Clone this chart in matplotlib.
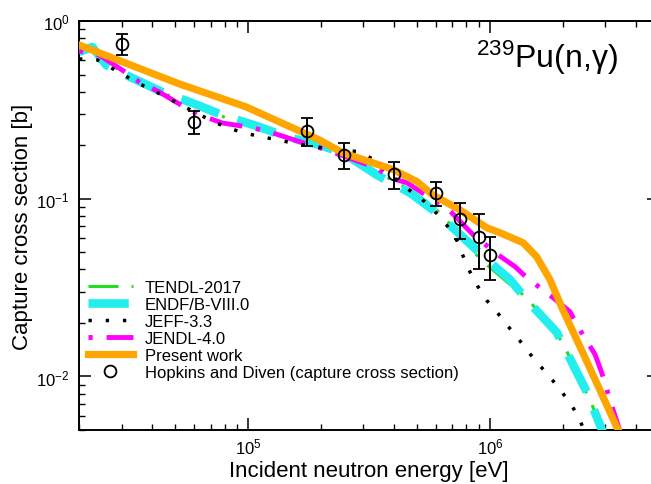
import matplotlib
matplotlib.use('Agg')
import matplotlib.pyplot as plt
from matplotlib.lines import Line2D
from matplotlib.ticker import NullFormatter

plt.rcParams['font.family'] = 'Liberation Sans'
plt.rcParams['mathtext.fontset'] = 'custom'
plt.rcParams['mathtext.rm'] = 'Liberation Sans'
plt.rcParams['mathtext.it'] = 'Liberation Sans:italic'
plt.rcParams['axes.unicode_minus'] = False
plt.rcParams['lines.scale_dashes'] = False

# energies in eV, cross sections in barn
present_e = [2.0e4, 5.19e4, 9.8e4, 1.96e5, 2.47e5, 3.97e5, 4.99e5, 5.81e5, 7.5e5, 9.7e5,
             1.1e6, 1.37e6, 1.56e6, 1.77e6, 2.0e6, 2.42e6, 2.93e6, 3.35e6, 3.6e6]
present_xs = [0.733, 0.443, 0.329, 0.215, 0.181, 0.146, 0.125, 0.105, 0.0867, 0.0687,
              0.0644, 0.0566, 0.0472, 0.0351, 0.0238, 0.0136, 0.00772, 0.00517, 0.0042]

endf_e = [2.0e4, 2.27e4, 2.59e4, 3.32e4, 4.41e4, 5.87e4, 7.81e4, 1.11e5, 1.44e5, 1.97e5,
          2.47e5, 3.41e5, 4.67e5, 5.81e5, 7.31e5, 9.72e5, 1.21e6, 1.44e6, 1.89e6, 2.52e6,
          2.90e6, 3.1e6]
endf_xs = [0.670, 0.714, 0.566, 0.478, 0.399, 0.346, 0.296, 0.254, 0.223, 0.201,
           0.181, 0.136, 0.108, 0.0867, 0.0653, 0.0454, 0.0351, 0.0264, 0.0177, 0.00813,
           0.00504, 0.0041]

tendl_e = [2.0e4, 2.27e4, 2.59e4, 3.01e4, 4.63e4, 5.87e4, 8.59e4, 1.74e5, 2.47e5, 3.41e5,
           4.67e5, 5.81e5, 7.31e5, 8.51e5, 1.0e6, 1.24e6, 1.42e6, 1.99e6, 2.64e6, 2.99e6]
tendl_xs = [0.687, 0.704, 0.589, 0.517, 0.384, 0.351, 0.274, 0.206, 0.181, 0.142,
            0.112, 0.0914, 0.0653, 0.0504, 0.0410, 0.0321, 0.0278, 0.0157, 0.00697, 0.00443]

jendl_e = [2.0e4, 2.42e4, 3.01e4, 3.55e4, 4.29e4, 5.54e4, 6.46e4, 7.81e4, 1.04e5, 1.26e5,
           1.64e5, 1.97e5, 2.40e5, 2.90e5, 3.41e5, 3.86e5, 4.54e5, 5.81e5, 6.64e5, 8.51e5,
           1.08e6, 1.27e6, 1.42e6, 1.82e6, 2.14e6, 2.31e6, 2.72e6, 2.90e6, 3.13e6, 3.44e6,
           3.58e6]
jendl_xs = [0.678, 0.644, 0.531, 0.454, 0.399, 0.324, 0.293, 0.267, 0.251, 0.235,
            0.209, 0.194, 0.177, 0.161, 0.149, 0.131, 0.123, 0.0987, 0.0890, 0.0628,
            0.0484, 0.0415, 0.0360, 0.0278, 0.0232, 0.0191, 0.0133, 0.0105, 0.00743, 0.00498,
            0.00443]

jeff_e = [2.0e4, 2.38e4, 3.01e4, 3.48e4, 4.01e4, 6.10e4, 7.10e4, 8.19e4, 9.62e4, 1.13e5,
          1.32e5, 1.52e5, 1.98e5, 2.40e5, 2.88e5, 3.25e5, 4.17e5, 4.76e5, 5.38e5, 6.04e5,
          6.70e5, 7.31e5, 7.73e5, 8.26e5, 8.91e5, 9.72e5, 1.08e6, 1.19e6, 1.32e6, 1.45e6,
          1.61e6, 1.79e6, 1.99e6, 2.18e6, 2.36e6, 2.5e6]
jeff_xs = [0.612, 0.604, 0.504, 0.449, 0.410, 0.304, 0.274, 0.251, 0.235, 0.223,
           0.215, 0.206, 0.194, 0.188, 0.184, 0.168, 0.125, 0.109, 0.0962, 0.0824,
           0.0697, 0.0581, 0.0479, 0.0389, 0.0321, 0.0267, 0.0226, 0.0191, 0.0161, 0.0136,
           0.0115, 0.00975, 0.00813, 0.00687, 0.00566, 0.0046]

# Hopkins and Diven measurement
hd_e = [3.0e4, 6.0e4, 1.75e5, 2.5e5, 4.0e5, 6.0e5, 7.5e5, 9.0e5, 1.0e6]
hd_xs = [0.743, 0.272, 0.241, 0.177, 0.138, 0.108, 0.077, 0.061, 0.048]
hd_err = [0.10, 0.04, 0.042, 0.03, 0.024, 0.017, 0.018, 0.021, 0.013]

fig = plt.figure(figsize=(6.51, 4.85), dpi=100)
ax = fig.add_axes([79/651, 54/485, 580/651, 409/485])

l_tendl, = ax.plot(tendl_e, tendl_xs, color='#22dd22', lw=2.2,
                   dashes=(21.6, 9.4, 2.2, 9.4), label='TENDL-2017', zorder=2)
l_endf, = ax.plot(endf_e, endf_xs, color='#22eeee', lw=6.2,
                  dashes=(29, 14), label='ENDF/B-VIII.0', zorder=3)
l_jendl, = ax.plot(jendl_e, jendl_xs, color='#ff00ff', lw=3.5,
                   linestyle=(0, (3, 10, 24, 10)), label='JENDL-4.0', zorder=3.5)
l_jeff, = ax.plot(jeff_e, jeff_xs, color='black', lw=2.5,
                  dashes=(2.4, 10), label='JEFF-3.3', zorder=4)
l_pres, = ax.plot(present_e, present_xs, color='#ffa500', lw=5.2,
                  label='Present work', zorder=5)
ax.errorbar(hd_e, hd_xs, yerr=hd_err, fmt='o', mfc='none', mec='black', ms=8.5, mew=1.3,
            ecolor='black', elinewidth=1.4, capsize=4.3, capthick=1.4, zorder=6)
h_hd = Line2D([], [], ls='none', marker='o', mfc='none', mec='black', ms=8.5, mew=1.3)

ax.set_xscale('log')
ax.set_yscale('log')
ax.set_xlim(2e4, 5e6)
ax.set_ylim(5e-3, 1)
ax.xaxis.set_minor_formatter(NullFormatter())
ax.yaxis.set_minor_formatter(NullFormatter())
ax.tick_params(which='both', direction='in', top=True, right=True)
ax.tick_params(which='major', length=8.5, width=1.1, labelsize=12)
ax.tick_params(which='minor', length=4.3, width=1.0)
ax.tick_params(axis='y', pad=7)
ax.tick_params(axis='x', pad=5)
for s in ax.spines.values():
    s.set_linewidth(1.4)

ax.set_xlabel('Incident neutron energy [eV]', fontsize=16, labelpad=2)
ax.set_ylabel('Capture cross section [b]', fontsize=16, labelpad=2)

fig.text(618/651, 1 - 68/485, r'$^{239}$Pu(n,γ)', fontsize=23, ha='right', va='baseline')

ax.legend(handles=[l_tendl, l_endf, l_jeff, l_jendl, l_pres, h_hd],
          labels=['TENDL-2017', 'ENDF/B-VIII.0', 'JEFF-3.3', 'JENDL-4.0', 'Present work',
                  'Hopkins and Diven (capture cross section)'],
          loc='upper left', bbox_to_anchor=(0.0155, 0.366), frameon=False, fontsize=12,
          handlelength=2.7, handletextpad=0.7, labelspacing=0.12, borderpad=0,
          borderaxespad=0)

fig.savefig('out.png', dpi=100)
